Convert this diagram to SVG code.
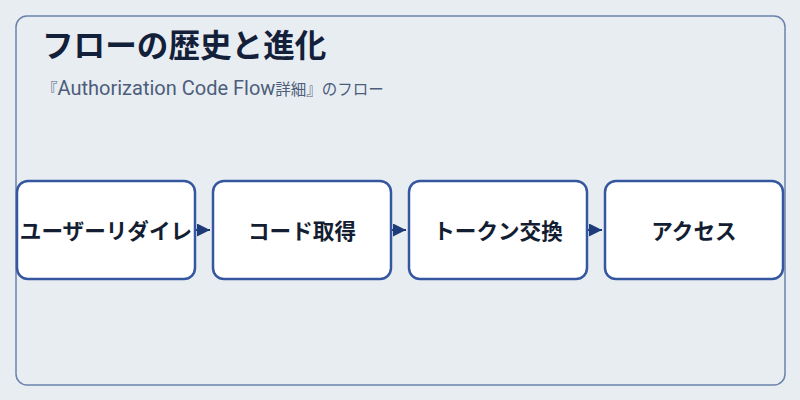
<svg xmlns="http://www.w3.org/2000/svg" width="800" height="400" viewBox="0 0 800 400">
<style>
.node rect{fill:#ffffff;stroke:#3557a0;stroke-width:2.5}
.node text{font-family:Roboto,"Noto Sans CJK JP",sans-serif;font-size:21.6px;font-weight:bold;fill:#141e33;text-anchor:middle;dominant-baseline:central}
.conn{stroke:#1f3a78;stroke-width:2;fill:none}
.cjk{font-family:"Noto Sans CJK JP",sans-serif;font-size:15.5px}
.lat{font-family:Roboto,sans-serif;font-size:20px}
</style>
<defs>
<marker id="ah" viewBox="0 0 10 10" refX="10" refY="5" markerWidth="13" markerHeight="13" markerUnits="userSpaceOnUse" orient="auto">
<path d="M0,0 L10,5 L0,10 Z" fill="#1f3a78"/>
</marker>
</defs>
<rect x="0" y="0" width="800" height="400" fill="#e8edf2"/>
<rect x="16" y="16" width="769" height="369" rx="11" fill="#e8edf2" stroke="#6a82ac" stroke-width="1.5"/>
<text x="42" y="57" font-family="Roboto,Noto Sans CJK JP,sans-serif" font-size="31.6" font-weight="bold" fill="#13203a">フローの歴史と進化</text>
<text x="42" y="95" fill="#4d5d7a"><tspan class="cjk">『</tspan><tspan class="lat">Authorization Code Flow</tspan><tspan class="cjk">詳細』のフロー</tspan></text>
<g id="connectors">
<line class="conn" x1="196" y1="230" x2="210" y2="230" marker-end="url(#ah)"/>
<line class="conn" x1="392" y1="230" x2="406" y2="230" marker-end="url(#ah)"/>
<line class="conn" x1="588" y1="230" x2="602" y2="230" marker-end="url(#ah)"/>
</g>
<g id="node1" class="node"><rect x="17" y="181" width="178" height="98" rx="11"/><text x="106" y="231">ユーザーリダイレ</text></g>
<g id="node2" class="node"><rect x="213" y="181" width="178" height="98" rx="11"/><text x="302" y="231">コード取得</text></g>
<g id="node3" class="node"><rect x="409" y="181" width="178" height="98" rx="11"/><text x="498" y="231">トークン交換</text></g>
<g id="node4" class="node"><rect x="605" y="181" width="178" height="98" rx="11"/><text x="694" y="231">アクセス</text></g>
</svg>
